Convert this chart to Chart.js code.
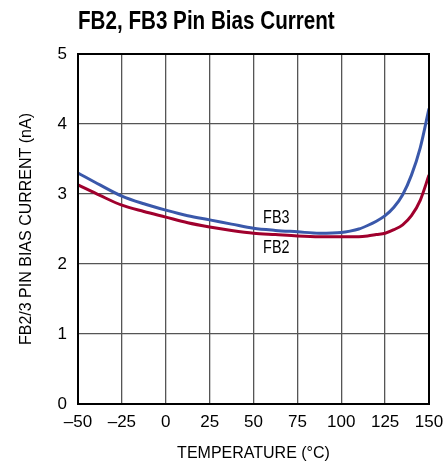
<!DOCTYPE html>
<html>
<head>
<meta charset="utf-8">
<script src="https://cdn.jsdelivr.net/npm/chart.js@4"></script>
<style>
  body { margin: 0; background: #fff; }
  #wrap { width: 443px; height: 463px; position: relative; }
</style>
</head>
<body>
<div id="wrap"><canvas id="biasChart"></canvas></div>
<script>
const temps = [-50, -37.5, -25, -12.5, 0, 12.5, 25, 37.5, 50, 62.5, 75, 87.5, 100, 105, 110, 115, 120, 125, 130, 135, 140, 145, 150]
const fb3 = [3.30, 3.13, 2.97, 2.86, 2.77, 2.69, 2.63, 2.57, 2.51, 2.48, 2.46, 2.44, 2.45, 2.47, 2.50, 2.55, 2.61, 2.69, 2.81, 2.99, 3.27, 3.66, 4.22]
const fb2 = [3.13, 2.98, 2.84, 2.75, 2.67, 2.59, 2.53, 2.48, 2.44, 2.42, 2.40, 2.39, 2.39, 2.39, 2.39, 2.40, 2.42, 2.44, 2.49, 2.56, 2.69, 2.91, 3.27]
const xTicks = [-50, -25, 0, 25, 50, 75, 100, 125, 150]
const yTicks = [0, 1, 2, 3, 4, 5]
const curveLabels = [
  { text: "FB3", x: 63, y: 2.66 },
  { text: "FB2", x: 63, y: 2.23 }
]

const FONT = "'Liberation Sans Narrow', 'Liberation Sans', Arial, sans-serif"

const toPoints = (ys) => temps.map((t, i) => ({ x: t, y: ys[i] }))

const data = {
  datasets: [{
    label: "FB3",
    data: toPoints(fb3),
    borderColor: 'rgb(58, 88, 170)',
    borderWidth: 3,
    pointRadius: 0,
    cubicInterpolationMode: 'monotone'
  }, {
    label: "FB2",
    data: toPoints(fb2),
    borderColor: 'rgb(160, 0, 45)',
    borderWidth: 3,
    pointRadius: 0,
    cubicInterpolationMode: 'monotone'
  }]
};

// narrow text: squeeze horizontally around the anchor
function narrowText(ctx, text, x, y, sx) {
  ctx.save()
  ctx.translate(x, y)
  ctx.scale(sx, 1)
  ctx.fillText(text, 0, 0)
  ctx.restore()
}

// title, frame and curve names
const extras = {
  id: 'extras',
  afterDraw(chart) {
    const ctx = chart.ctx
    const area = chart.chartArea
    const xs = chart.scales.x, ys = chart.scales.y
    ctx.save()
    ctx.strokeStyle = '#000'
    ctx.lineWidth = 2
    ctx.strokeRect(area.left, area.top, area.right - area.left, area.bottom - area.top)
    ctx.fillStyle = '#000'
    ctx.font = "bold 25px " + FONT
    ctx.textBaseline = 'alphabetic'
    ctx.textAlign = 'left'
    narrowText(ctx, "FB2, FB3 Pin Bias Current", area.left, 29, 0.825)
    ctx.font = "18px " + FONT
    ctx.textAlign = 'center'
    ctx.textBaseline = 'middle'
    curveLabels.forEach(l => {
      narrowText(ctx, l.text, xs.getPixelForValue(l.x), ys.getPixelForValue(l.y), 0.8)
    })
    ctx.restore()
  }
}

const config = {
  type: 'line',
  data: data,
  options: {
    animation: false,
    responsive: true,
    maintainAspectRatio: false,
    layout: {
      padding: { top: 54, right: 14, left: 0, bottom: 0 }
    },
    scales: {
      x: {
        type: 'linear',
        min: -50,
        max: 150,
        afterFit: s => { s.height = 59; s.paddingLeft = 0; s.paddingRight = 0 },
        afterBuildTicks: s => { s.ticks = xTicks.map(v => ({ value: v })) },
        grid: { color: '#555', lineWidth: 1.3, drawTicks: false },
        border: { color: '#000', width: 2 },
        ticks: {
          color: '#000',
          padding: 8,
          maxRotation: 0,
          font: { family: FONT, size: 17 },
          callback: v => v < 0 ? '\u2013' + Math.abs(v) : '' + v
        },
        title: {
          display: true,
          text: "TEMPERATURE (°C)",
          color: '#000',
          font: { family: FONT, size: 16 },
          padding: { top: 6, bottom: 0 }
        }
      },
      y: {
        min: 0,
        max: 5,
        afterFit: s => { s.width = 78; s.paddingTop = 0; s.paddingBottom = 0 },
        afterBuildTicks: s => { s.ticks = yTicks.map(v => ({ value: v })) },
        grid: { color: '#555', lineWidth: 1.3, drawTicks: false },
        border: { color: '#000', width: 2 },
        ticks: {
          color: '#000',
          padding: 11,
          font: { family: FONT, size: 17 }
        },
        title: {
          display: true,
          text: "FB2/3 PIN BIAS CURRENT (nA)",
          color: '#000',
          font: { family: FONT, size: 16 },
          padding: { top: 17, bottom: 0 }
        }
      }
    },
    plugins: {
      legend: { display: false },
      tooltip: { enabled: false }
    }
  },
  plugins: [extras]
};

var biasChart = new Chart(
  document.getElementById('biasChart'),
  config
);
</script>
</body>
</html>
